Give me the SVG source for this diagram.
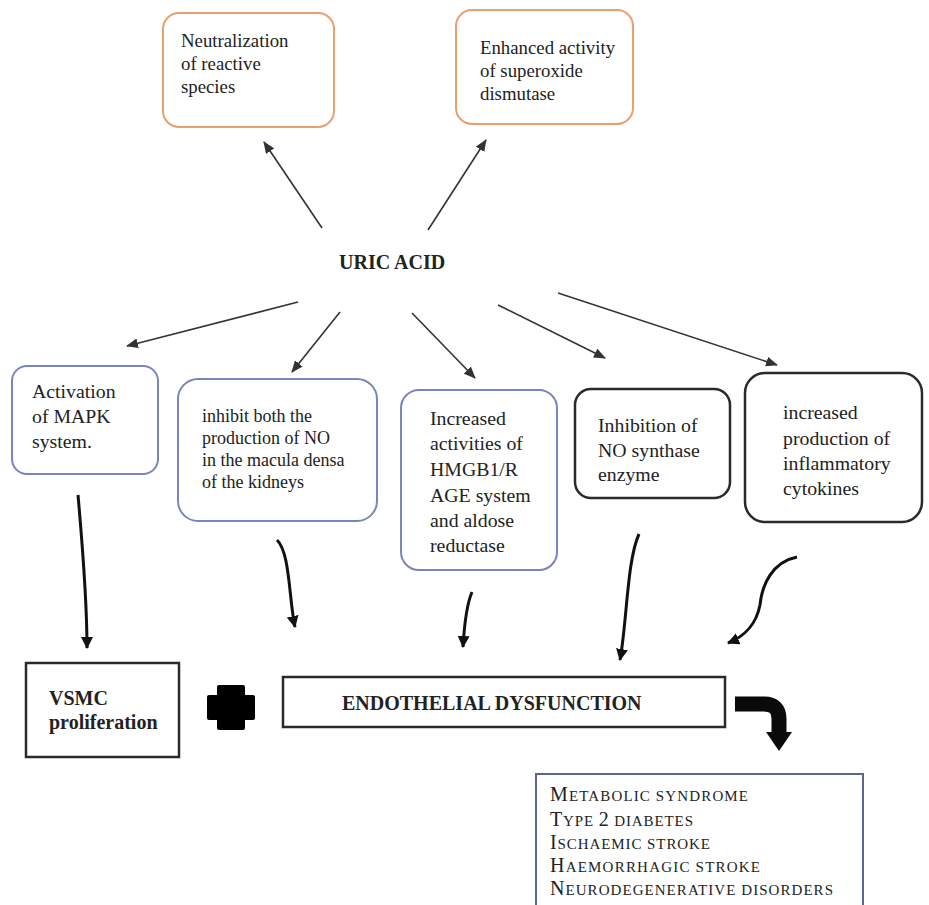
<svg xmlns="http://www.w3.org/2000/svg" width="929" height="905" viewBox="0 0 929 905">
<style>
.t{font-family:"Liberation Serif","Times New Roman",serif;fill:#222;}
.r{font-family:"Liberation Serif","Times New Roman",serif;fill:#222;font-size:18px;}
.b{font-weight:bold;}
.orange{fill:#fff;stroke:#e8a070;stroke-width:2;}
.blue{fill:#fff;stroke:#7a84bd;stroke-width:2;}
.dark{fill:#fff;stroke:#2a2a2a;stroke-width:2.5;}
.thin{fill:none;stroke:#333;stroke-width:1.6;marker-end:url(#ah);}
.curve{fill:none;stroke:#111;stroke-width:3;marker-end:url(#ahb);}
</style>
<defs>
<marker id="ah" viewBox="0 0 12 10" refX="11" refY="5" markerWidth="12" markerHeight="10" markerUnits="userSpaceOnUse" orient="auto"><path d="M0,0 L12,5 L0,10 z" fill="#333"/></marker>
<marker id="ahb" viewBox="0 0 12 12" refX="11" refY="6" markerWidth="12" markerHeight="12" markerUnits="userSpaceOnUse" orient="auto"><path d="M0,0 L12,6 L0,12 z" fill="#111"/></marker>
</defs>
<rect width="929" height="905" fill="#fff"/>

<g id="uric-acid"><text class="t b" x="339" y="269" font-size="20">URIC ACID</text></g>

<g id="neutralization">
<rect class="orange" x="163" y="13" width="171" height="114" rx="16"/>
<g transform="translate(181,47) scale(1.0444)">
<text class="r" x="0" y="0">Neutralization</text>
<text class="r" x="0" y="22.02">of reactive</text>
<text class="r" x="0" y="44.04">species</text>
</g>
</g>
<g id="superoxide">
<rect class="orange" x="456" y="10" width="177" height="114" rx="16"/>
<g transform="translate(480,54) scale(1.0444)">
<text class="r" x="0" y="0">Enhanced activity</text>
<text class="r" x="0" y="22.02">of superoxide</text>
<text class="r" x="0" y="44.04">dismutase</text>
</g>
</g>

<g id="mapk">
<rect class="blue" x="12" y="366" width="146" height="108" rx="15"/>
<g transform="translate(32,398) scale(1.1)">
<text class="r" x="0" y="0">Activation</text>
<text class="r" x="0" y="22.73">of MAPK</text>
<text class="r" x="0" y="45.45">system.</text>
</g>
</g>
<g id="macula">
<rect class="blue" x="178" y="379" width="199" height="142" rx="20"/>
<text class="r" x="202" y="422">inhibit both the</text>
<text class="r" x="202" y="444">production of NO</text>
<text class="r" x="202" y="466">in the macula densa</text>
<text class="r" x="202" y="488">of the kidneys</text>
</g>
<g id="hmgb1">
<rect class="blue" x="401" y="390" width="156" height="180" rx="18"/>
<g transform="translate(430,425) scale(1.1)">
<text class="r" x="0" y="0">Increased</text>
<text class="r" x="0" y="22.73">activities of</text>
<text class="r" x="0" y="46.36">HMGB1/R</text>
<text class="r" x="0" y="70">AGE system</text>
<text class="r" x="0" y="92.73">and aldose</text>
<text class="r" x="0" y="115.45">reductase</text>
</g>
</g>
<g id="nos">
<rect class="dark" x="575" y="389" width="155" height="109" rx="16"/>
<g transform="translate(598,432) scale(1.1)">
<text class="r" x="0" y="0">Inhibition of</text>
<text class="r" x="0" y="22.73">NO synthase</text>
<text class="r" x="0" y="44.55">enzyme</text>
</g>
</g>
<g id="cytokines">
<rect class="dark" x="745" y="373" width="177" height="149" rx="20"/>
<g transform="translate(783,419) scale(1.1)">
<text class="r" x="0" y="0">increased</text>
<text class="r" x="0" y="23.64">production of</text>
<text class="r" x="0" y="46.36">inflammatory</text>
<text class="r" x="0" y="69.09">cytokines</text>
</g>
</g>

<g id="vsmc">
<rect fill="#fff" stroke="#2a2a2a" stroke-width="2.5" x="26" y="663" width="153" height="94"/>
<text class="t b" x="49" y="705" font-size="20">VSMC</text>
<text class="t b" x="49" y="729" font-size="20">proliferation</text>
</g>
<g id="plus">
<path d="M219,685 L243,685 Q245,685 245,687 L245,695 L253,695 Q255,695 255,697 L255,718 Q255,720 253,720 L245,720 L245,728 Q245,730 243,730 L219,730 Q217,730 217,728 L217,720 L209,720 Q207,720 207,718 L207,697 Q207,695 209,695 L217,695 L217,687 Q217,685 219,685 Z" fill="#000"/>
</g>
<g id="endothelial">
<rect fill="#fff" stroke="#2a2a2a" stroke-width="2.5" x="283" y="677" width="442" height="50"/>
<text class="t b" x="342" y="710" font-size="20">ENDOTHELIAL DYSFUNCTION</text>
</g>
<g id="big-arrow">
<path d="M735,704 L764,704 Q779,704 779,719 L779,734" fill="none" stroke="#0a0a0a" stroke-width="15"/>
<path d="M766,732 L792,732 L779,751 Z" fill="#0a0a0a"/>
</g>
<g id="diseases">
<rect fill="#fff" stroke="#5d6494" stroke-width="2" x="536" y="774" width="327" height="140"/>
<text class="t" x="550" y="801" textLength="198" lengthAdjust="spacing"><tspan font-size="20">M</tspan><tspan font-size="15">ETABOLIC SYNDROME</tspan></text>
<text class="t" x="550" y="826" textLength="143" lengthAdjust="spacing"><tspan font-size="20">T</tspan><tspan font-size="15">YPE </tspan><tspan font-size="20">2</tspan><tspan font-size="15"> DIABETES</tspan></text>
<text class="t" x="550" y="849" textLength="160" lengthAdjust="spacing"><tspan font-size="20">I</tspan><tspan font-size="15">SCHAEMIC STROKE</tspan></text>
<text class="t" x="550" y="872" textLength="210" lengthAdjust="spacing"><tspan font-size="20">H</tspan><tspan font-size="15">AEMORRHAGIC STROKE</tspan></text>
<text class="t" x="550" y="895" textLength="283" lengthAdjust="spacing"><tspan font-size="20">N</tspan><tspan font-size="15">EURODEGENERATIVE DISORDERS</tspan></text>
</g>

<g id="connectors">
<line class="thin" x1="322" y1="228" x2="264" y2="142"/>
<line class="thin" x1="428" y1="230" x2="486" y2="140"/>
<line class="thin" x1="298" y1="302" x2="127" y2="346"/>
<line class="thin" x1="340" y1="312" x2="292" y2="372"/>
<line class="thin" x1="412" y1="313" x2="475" y2="378"/>
<line class="thin" x1="498" y1="305" x2="605" y2="358"/>
<line class="thin" x1="558" y1="293" x2="777" y2="365"/>
<path class="curve" d="M78,495 C82,540 87,600 87,648"/>
<path class="curve" d="M277,540 C290,552 289,600 295,627"/>
<path class="curve" d="M472,592 C466,606 464,630 463,647"/>
<path class="curve" d="M639,534 C627,560 627,622 620,660"/>
<path class="curve" d="M797,557 C772,562 762,585 760,605 C756,625 745,636 728,643"/>
</g>
</svg>
